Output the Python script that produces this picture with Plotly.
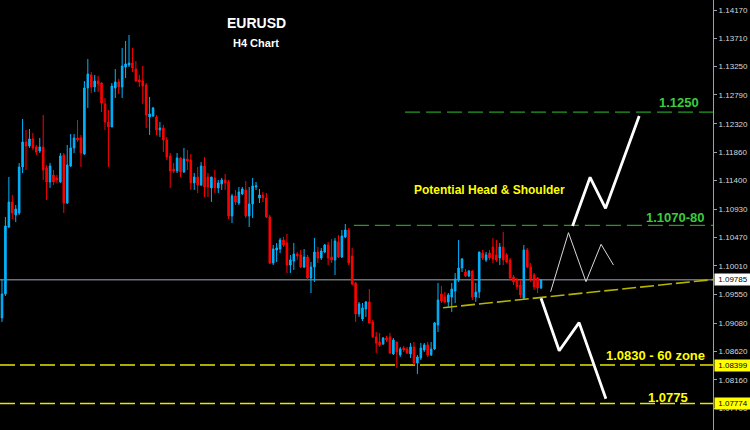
import plotly.graph_objects as go

# ---------------- data (EURUSD H4) ----------------
opens = [1.09164, 1.09554, 1.10643, 1.11049, 1.10838, 1.10871, 1.11619, 1.12025, 1.11960, 1.12074,
         1.11944, 1.11879, 1.11944, 1.11603, 1.11375, 1.11489, 1.11440, 1.11375, 1.11814, 1.11033,
         1.11635, 1.11928, 1.12090, 1.12090, 1.11830, 1.12903, 1.13114, 1.12919, 1.13016, 1.12984,
         1.12643, 1.12350, 1.12269, 1.12903, 1.13000, 1.12919, 1.13244, 1.13276, 1.13309, 1.13211,
         1.13033, 1.13016, 1.12951, 1.12432, 1.12448, 1.12432, 1.12220, 1.12253, 1.12058, 1.11798,
         1.11586, 1.11554, 1.11765, 1.11538, 1.11749, 1.11733, 1.11359, 1.11456, 1.11326, 1.11635,
         1.11456, 1.11278, 1.11440, 1.11278, 1.11343, 1.11408, 1.11375, 1.10822, 1.11148, 1.11033,
         1.11180, 1.11245, 1.10822, 1.11017, 1.11294, 1.11115, 1.11164, 1.11115, 1.10806, 1.10058,
         1.10269, 1.10286, 1.10432, 1.10383, 1.10025, 1.10090, 1.10204, 1.10188, 1.09993, 1.10156,
         1.09814, 1.09993, 1.10237, 1.10139, 1.10237, 1.10351, 1.10156, 1.10107, 1.10399, 1.10156,
         1.10481, 1.10594, 1.10172, 1.09733, 1.09229, 1.09148, 1.09311, 1.09424, 1.09099, 1.08856,
         1.08774, 1.08742, 1.08839, 1.08856, 1.08579, 1.08774, 1.08563, 1.08677, 1.08660, 1.08579,
         1.08693, 1.08432, 1.08514, 1.08644, 1.08726, 1.08563, 1.08660, 1.09051, 1.09554, 1.09505,
         1.09424, 1.09505, 1.09603, 1.09782, 1.09976, 1.09911, 1.09846, 1.09927, 1.09505, 1.09587,
         1.10220, 1.10107, 1.10220, 1.10318, 1.10188, 1.10139, 1.10318, 1.10188, 1.10107, 1.09830,
         1.09782, 1.09700, 1.09489, 1.10269, 1.09993, 1.09863, 1.09814, 1.09652]
highs = [1.09782, 1.10806, 1.11456, 1.11164, 1.11001, 1.11684, 1.12399, 1.12220, 1.12236, 1.12172,
         1.11977, 1.12090, 1.12464, 1.11651, 1.11684, 1.11570, 1.11489, 1.11846, 1.11846, 1.11977,
         1.12155, 1.12155, 1.12383, 1.12139, 1.13016, 1.13374, 1.13163, 1.13114, 1.13098, 1.13000,
         1.12740, 1.12545, 1.12984, 1.13211, 1.13049, 1.13553, 1.13667, 1.13764, 1.13553, 1.13341,
         1.13114, 1.13260, 1.12984, 1.12756, 1.12594, 1.12464, 1.12350, 1.12302, 1.12107, 1.11846,
         1.11684, 1.11846, 1.11781, 1.11928, 1.11895, 1.11830, 1.11521, 1.11619, 1.11700, 1.11781,
         1.11521, 1.11456, 1.11570, 1.11408, 1.11440, 1.11505, 1.11408, 1.11180, 1.11245, 1.11294,
         1.11294, 1.11391, 1.11294, 1.11440, 1.11375, 1.11261, 1.11213, 1.11196, 1.10838, 1.10351,
         1.10383, 1.10464, 1.10481, 1.10529, 1.10188, 1.10383, 1.10237, 1.10269, 1.10286, 1.10188,
         1.10074, 1.10464, 1.10318, 1.10302, 1.10367, 1.10399, 1.10448, 1.10464, 1.10513, 1.10594,
         1.10692, 1.10627, 1.10302, 1.09749, 1.09424, 1.09408, 1.09441, 1.09635, 1.09132, 1.08937,
         1.08921, 1.08856, 1.08872, 1.08921, 1.08839, 1.08774, 1.08693, 1.08709, 1.08693, 1.08758,
         1.08774, 1.08563, 1.08758, 1.08758, 1.08774, 1.08774, 1.09099, 1.09733, 1.09684, 1.09587,
         1.09570, 1.09733, 1.09895, 1.10432, 1.10139, 1.09960, 1.09944, 1.09944, 1.09733, 1.10237,
         1.10269, 1.10237, 1.10269, 1.10464, 1.10432, 1.10383, 1.10562, 1.10220, 1.10139, 1.09863,
         1.09814, 1.09782, 1.10351, 1.10302, 1.10058, 1.09895, 1.09830, 1.09798]
lows = [1.09099, 1.09522, 1.10627, 1.10773, 1.10724, 1.10838, 1.11521, 1.11570, 1.11928, 1.11895,
        1.11814, 1.11846, 1.11408, 1.11082, 1.11278, 1.11326, 1.11359, 1.11359, 1.10871, 1.11017,
        1.11619, 1.11846, 1.12025, 1.11619, 1.11814, 1.12578, 1.12821, 1.12838, 1.12838, 1.12513,
        1.12220, 1.11619, 1.12269, 1.12740, 1.12805, 1.12740, 1.13065, 1.13244, 1.13163, 1.13000,
        1.12919, 1.12643, 1.12253, 1.12139, 1.12432, 1.12139, 1.12107, 1.11863, 1.11733, 1.11278,
        1.11521, 1.11521, 1.11456, 1.11521, 1.11570, 1.11245, 1.11245, 1.11196, 1.11310, 1.11131,
        1.11131, 1.11049, 1.11196, 1.11196, 1.11245, 1.11245, 1.10773, 1.10708, 1.11001, 1.11001,
        1.11164, 1.10789, 1.10643, 1.10789, 1.11245, 1.11033, 1.11049, 1.10789, 1.10042, 1.10025,
        1.10074, 1.10220, 1.10318, 1.09895, 1.09895, 1.09944, 1.10107, 1.09976, 1.09976, 1.09782,
        1.09570, 1.09749, 1.10058, 1.10107, 1.10220, 1.10025, 1.10058, 1.09863, 1.10139, 1.10139,
        1.10464, 1.10025, 1.09700, 1.09099, 1.09181, 1.09115, 1.09181, 1.09083, 1.08839, 1.08595,
        1.08693, 1.08726, 1.08774, 1.08579, 1.08563, 1.08351, 1.08530, 1.08612, 1.08579, 1.08514,
        1.08400, 1.08254, 1.08481, 1.08612, 1.08530, 1.08546, 1.08644, 1.08937, 1.09408, 1.09408,
        1.09343, 1.09262, 1.09408, 1.09749, 1.09911, 1.09830, 1.09830, 1.09457, 1.09424, 1.09489,
        1.10107, 1.10074, 1.10107, 1.10058, 1.10074, 1.10025, 1.10025, 1.10058, 1.09782, 1.09700,
        1.09619, 1.09489, 1.09457, 1.09976, 1.09749, 1.09619, 1.09570, 1.09635]
closes = [1.09554, 1.10659, 1.11049, 1.10871, 1.10936, 1.11619, 1.12025, 1.11960, 1.12074, 1.11928,
          1.11863, 1.11944, 1.11570, 1.11375, 1.11635, 1.11375, 1.11408, 1.11798, 1.11033, 1.11651,
          1.11928, 1.12090, 1.12058, 1.11846, 1.12903, 1.13130, 1.12919, 1.13016, 1.12968, 1.12659,
          1.12350, 1.12269, 1.12935, 1.13000, 1.12919, 1.13260, 1.13293, 1.13309, 1.13228, 1.13016,
          1.13000, 1.12935, 1.12464, 1.12480, 1.12578, 1.12220, 1.12253, 1.12058, 1.11781, 1.11554,
          1.11554, 1.11765, 1.11538, 1.11749, 1.11716, 1.11359, 1.11456, 1.11326, 1.11635, 1.11294,
          1.11294, 1.11456, 1.11278, 1.11359, 1.11408, 1.11359, 1.10822, 1.11148, 1.11049, 1.11213,
          1.11261, 1.10822, 1.11017, 1.11310, 1.11310, 1.11164, 1.11115, 1.10806, 1.10058, 1.10286,
          1.10302, 1.10432, 1.10351, 1.10025, 1.10107, 1.10204, 1.10172, 1.09993, 1.10156, 1.09814,
          1.09993, 1.10237, 1.10139, 1.10253, 1.10351, 1.10139, 1.10107, 1.10416, 1.10156, 1.10497,
          1.10594, 1.10058, 1.09716, 1.09229, 1.09392, 1.09327, 1.09424, 1.09083, 1.08856, 1.08758,
          1.08726, 1.08839, 1.08807, 1.08595, 1.08807, 1.08612, 1.08660, 1.08644, 1.08595, 1.08693,
          1.08432, 1.08530, 1.08677, 1.08726, 1.08563, 1.08660, 1.09083, 1.09457, 1.09441, 1.09424,
          1.09538, 1.09635, 1.09798, 1.09976, 1.10123, 1.09846, 1.09927, 1.09505, 1.09587, 1.10237,
          1.10139, 1.10188, 1.10139, 1.10123, 1.10107, 1.10318, 1.10107, 1.10074, 1.09814, 1.09749,
          1.09668, 1.09538, 1.10269, 1.09993, 1.09798, 1.09668, 1.09652, 1.09785]
bar_index = list(range(len(closes)))

# price axis ticks
tick_values = [1.14170, 1.13710, 1.13250, 1.12790, 1.12320, 1.11860, 1.11400, 1.10930,
               1.10470, 1.10010, 1.09550, 1.09080, 1.08620, 1.08160, 1.07700]
tick_labels = ["1.14170", "1.13710", "1.13250", "1.12790", "1.12320", "1.11860", "1.11400", "1.10930",
               "1.10470", "1.10010", "1.09550", "1.09080", "1.08620", "1.08160", "1.07700"]

# levels
current_price = 1.09785
target_level = 1.1251
resistance_level = 1.1067
support_zone = 1.08399
support_low = 1.07774
target_start = 117.4
resistance_start = 102.5

# drawn projections (bar index, price)
neck_x = [128.5, 207.1]
neck_y = [1.09331, 1.09789]
bull_x = [166.2, 171.3, 175.8, 185.6]
bull_y = [1.10659, 1.11451, 1.10947, 1.12447]
bear_x = [157.0, 162.3, 168.1, 175.9]
bear_y = [1.09484, 1.08632, 1.09088, 1.07852]
hs_x = [159.8, 165.0, 170.1, 174.5, 178.1]
hs_y = [1.09591, 1.10551, 1.09754, 1.10362, 1.10025]

X_RANGE = [-0.58, 207.1]
Y_RANGE = [1.07343, 1.14333]

BLUE = "#00b4ff"
RED = "#ff0000"
GREEN_LINE = "#239b23"
GREEN_TXT = "#3ccc3c"
YELLOW_LINE = "#e6e600"
YELLOW_TXT = "#ffff00"
FONT = "Liberation Sans, Arial, sans-serif"

fig = go.Figure()

# horizontal reference lines (under candles)
fig.add_shape(type="line", xref="paper", x0=0, x1=1, yref="y", y0=current_price, y1=current_price,
              line=dict(color="#6b7079", width=1.5), layer="below")
fig.add_shape(type="line", xref="paper", x0=0, x1=1, yref="y", y0=support_zone, y1=support_zone,
              line=dict(color=YELLOW_LINE, width=1.5, dash="15px,5px"), layer="below")
fig.add_shape(type="line", xref="paper", x0=0, x1=1, yref="y", y0=support_low, y1=support_low,
              line=dict(color=YELLOW_LINE, width=1.5, dash="15px,5px"), layer="below")
fig.add_shape(type="line", xref="x", x0=target_start, x1=X_RANGE[1], yref="y", y0=target_level, y1=target_level,
              line=dict(color=GREEN_LINE, width=1.4, dash="15px,6px"), layer="below")
fig.add_shape(type="line", xref="x", x0=resistance_start, x1=X_RANGE[1], yref="y", y0=resistance_level,
              y1=resistance_level, line=dict(color=GREEN_LINE, width=1.4, dash="15px,6px"), layer="below")

fig.add_trace(go.Candlestick(
    x=bar_index, open=opens, high=highs, low=lows, close=closes,
    increasing=dict(line=dict(color=BLUE, width=1), fillcolor=BLUE),
    decreasing=dict(line=dict(color=RED, width=1), fillcolor=RED),
    whiskerwidth=0, showlegend=False, hoverinfo="skip"))

# neckline
fig.add_trace(go.Scatter(x=neck_x, y=neck_y, mode="lines", showlegend=False, hoverinfo="skip",
                         line=dict(color="#b4b400", width=1.6, dash="14px,4px")))
# thin head & shoulder sketch
fig.add_trace(go.Scatter(x=hs_x, y=hs_y, mode="lines", showlegend=False, hoverinfo="skip",
                         line=dict(color="#d9d9d9", width=1)))
# bullish / bearish projections
fig.add_trace(go.Scatter(x=bull_x, y=bull_y, mode="lines", showlegend=False, hoverinfo="skip",
                         line=dict(color="#ffffff", width=2.8)))
fig.add_trace(go.Scatter(x=bear_x, y=bear_y, mode="lines", showlegend=False, hoverinfo="skip",
                         line=dict(color="#ffffff", width=2.8)))

PW, PH = 713.0, 430.0
def px(x):
    return x / PW
def py(y):
    return 1 - y / PH

ann = []
ann.append(dict(text="<b>EURUSD</b>", x=px(256), y=py(23), xref="paper", yref="paper", showarrow=False,
                font=dict(family=FONT, size=14, color="#ffffff"), xanchor="center", yanchor="middle"))
ann.append(dict(text="<b>H4 Chart</b>", x=px(256), y=py(43), xref="paper", yref="paper", showarrow=False,
                font=dict(family=FONT, size=11, color="#ffffff"), xanchor="center", yanchor="middle"))
ann.append(dict(text="<b>Potential Head &amp; Shoulder</b>", x=px(412), y=py(190), xref="paper", yref="paper",
                showarrow=False, font=dict(family=FONT, size=12, color=YELLOW_TXT), xanchor="left", yanchor="middle"))
ann.append(dict(text="<b>1.1250</b>", x=px(701), y=py(102), xref="paper", yref="paper", showarrow=False,
                font=dict(family=FONT, size=13, color=GREEN_TXT), xanchor="right", yanchor="middle"))
ann.append(dict(text="<b>1.1070-80</b>", x=px(707), y=py(217), xref="paper", yref="paper", showarrow=False,
                font=dict(family=FONT, size=13, color=GREEN_TXT), xanchor="right", yanchor="middle"))
ann.append(dict(text="<b>1.0830 - 60 zone</b>", x=px(707), y=py(355), xref="paper", yref="paper", showarrow=False,
                font=dict(family=FONT, size=13, color=YELLOW_TXT), xanchor="right", yanchor="middle"))
ann.append(dict(text="<b>1.0775</b>", x=px(690), y=py(397), xref="paper", yref="paper", showarrow=False,
                font=dict(family=FONT, size=13, color=YELLOW_TXT), xanchor="right", yanchor="middle"))

# price boxes on the axis
for val, bg in [(current_price, "#ffffff"), (support_zone, "#ffff00"), (support_low, "#ffff00")]:
    ann.append(dict(text=f"{val:.5f}", x=1.0, y=val, xref="paper", yref="y", showarrow=False,
                    xanchor="left", yanchor="middle", xshift=1, bgcolor=bg, borderpad=1,
                    width=34, align="center",
                    font=dict(family=FONT, size=8, color="#000000")))

fig.update_layout(
    width=750, height=430,
    margin=dict(l=0, r=37, t=0, b=0, pad=0),
    paper_bgcolor="#000000", plot_bgcolor="#000000",
    boxgap=0.35,
    annotations=ann,
    showlegend=False,
    xaxis=dict(range=X_RANGE, visible=False, rangeslider=dict(visible=False), fixedrange=True),
    yaxis=dict(range=Y_RANGE, side="right", tickvals=tick_values, ticktext=tick_labels,
               showgrid=False, zeroline=False, showline=True, linecolor="#a0a0a0", linewidth=1,
               ticks="outside", ticklen=3, tickcolor="#a0a0a0",
               tickfont=dict(family=FONT, size=8, color="#d8d8d8"), fixedrange=True),
)

fig.write_html("out.html", config={"displayModeBar": False},
               post_script="document.body.style.margin='0';")
